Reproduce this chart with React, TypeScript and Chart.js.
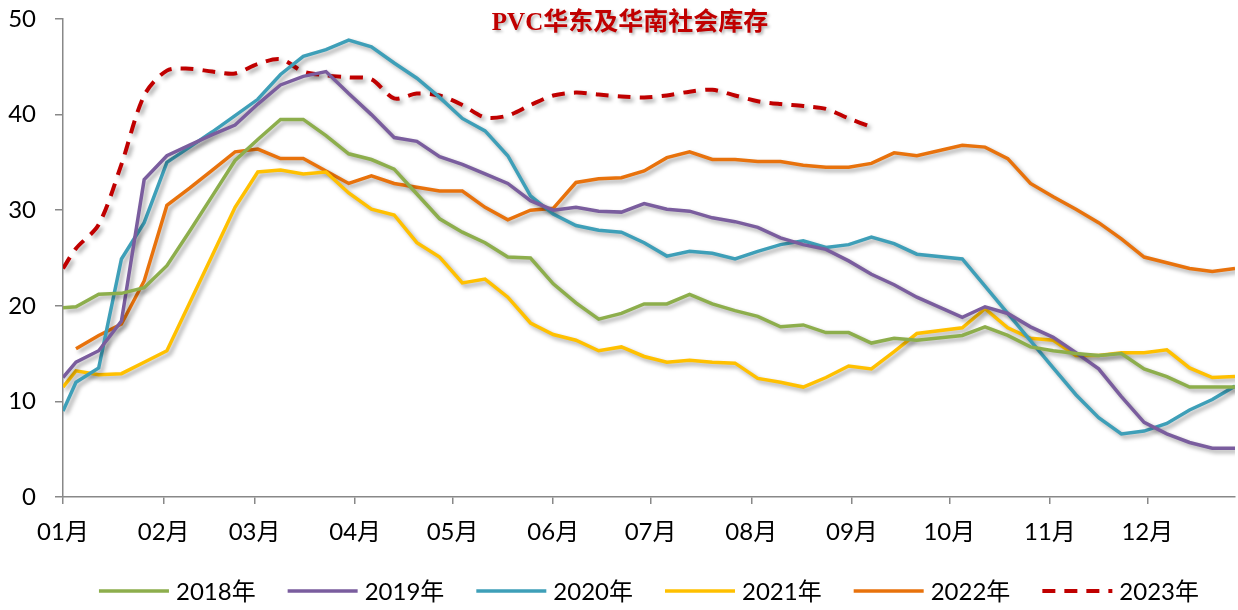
import React, { useEffect, useRef } from "react";
import { Chart, registerables } from "chart.js";

Chart.register(...registerables);

// ---------- data ----------
const chartTitle = "PVC华东及华南社会库存";
const monthLabels = ["01月", "02月", "03月", "04月", "05月", "06月", "07月", "08月", "09月", "10月", "11月", "12月"];
const monthStartDays = [0, 31, 59, 90, 120, 151, 181, 212, 243, 273, 304, 334];
const lastDay = 361;
// sample dates (day of year): Jan 1, then weekly from Jan 5
const weekDays: number[] = [0, ...Array.from({ length: 52 }, (_, k) => 4 + 7 * k)];

const seriesNames = ["2018年", "2019年", "2020年", "2021年", "2022年", "2023年"];

const v2018 = [19.8, 19.9, 21.2, 21.3, 21.9, 24.2, 27.8, 31.5, 35.2, 37.4, 39.5, 39.5, 37.8, 35.9, 35.3, 34.3, 31.7, 29.1, 27.7, 26.6, 25.1, 25.0, 22.3, 20.3, 18.6, 19.2, 20.2, 20.2, 21.2, 20.2, 19.5, 18.9, 17.8, 18.0, 17.2, 17.2, 16.1, 16.6, 16.4, null, 16.9, 17.8, 16.9, 15.7, 15.3, 15.0, 14.8, 15.0, 13.4, 12.6, 11.5, 11.5, 11.5];
const v2019 = [12.5, 14.1, 15.3, 18.4, 33.2, 35.7, 36.8, 37.9, 38.9, 41.1, 43.1, 44.0, 44.5, 42.2, 40.0, 37.6, 37.2, 35.6, 34.8, 33.8, 32.8, 31.0, 30.0, 30.3, 29.9, 29.8, 30.7, 30.1, 29.9, 29.2, 28.8, 28.2, 27.1, 26.4, 25.9, 24.7, 23.3, 22.2, 20.9, null, 18.8, 19.9, 19.2, 17.8, 16.7, 15.1, 13.4, 10.5, 7.8, 6.6, 5.7, 5.1, 5.1];
const v2020 = [9.0, 12.0, 13.5, 24.9, 28.7, 35.0, 36.6, 38.2, 39.9, 41.6, 44.2, 46.1, 46.8, 47.8, 47.1, 45.4, 43.8, 41.8, 39.6, 38.3, 35.7, 31.5, 29.6, 28.4, 27.9, 27.7, 26.6, 25.2, 25.7, 25.5, 24.9, 25.7, 26.4, 26.8, 26.1, 26.4, 27.2, 26.5, 25.4, null, 24.9, null, null, null, 13.5, 10.7, 8.3, 6.6, 6.9, 7.7, 9.1, 10.2, 11.6];
const v2021 = [11.5, 13.2, 12.8, 12.9, 14.1, 15.3, 20.3, 25.3, 30.3, 34.0, 34.2, 33.8, 34.0, 31.8, 30.1, 29.5, 26.6, 25.1, 22.4, 22.8, 20.9, 18.2, 17.0, 16.4, 15.3, 15.7, 14.7, 14.1, 14.3, 14.1, 14.0, 12.4, 12.0, 11.5, 12.5, 13.7, 13.4, 15.2, 17.1, null, 17.7, 19.7, 17.7, 16.6, 16.4, 14.8, 14.8, 15.1, 15.1, 15.4, 13.5, 12.5, 12.6];
const v2022 = [null, 15.5, 16.9, 18.1, 22.6, 30.5, 32.3, 34.2, 36.1, 36.4, 35.4, 35.4, 34.1, 32.8, 33.6, 32.8, 32.4, 32.0, 32.0, 30.3, 29.0, 30.0, 30.2, 32.9, 33.3, 33.4, 34.1, 35.5, 36.1, 35.3, 35.3, 35.1, 35.1, 34.7, 34.5, 34.5, 34.9, 36.0, 35.7, null, 36.8, 36.6, 35.4, 32.8, 31.4, 30.1, 28.7, 27.0, 25.1, 24.5, 23.9, 23.6, 23.9];
const v2023 = [23.9, 26.0, 28.5, 34.8, 42.0, 44.6, 44.8, 44.5, 44.3, 45.3, 45.8, 44.5, 44.1, 43.9, 43.7, 41.7, 42.2, 42.0, 41.0, 39.7, 39.9, 41.0, 42.0, 42.3, 42.1, 41.9, 41.8, 42.0, 42.4, 42.6, 42.0, 41.4, 41.1, 40.9, 40.6, 39.6, 38.7];

const yTicks = [0, 10, 20, 30, 40, 50];

// ---------- styles ----------
const FONT = "Lato, 'Noto Sans CJK SC', sans-serif";
const colors = ["#8DAE4C", "#7A5D9E", "#3E9FB8", "#FFC000", "#E8720C", "#C00000"];
const allValues = [v2018, v2019, v2020, v2021, v2022, v2023];

const toPoints = (vals: (number | null)[]) =>
  vals.map((y, i) => ({ x: weekDays[i], y }));

const shadowPlugin = {
  id: "lineShadow",
  beforeDatasetDraw(chart: any) {
    const ctx = chart.ctx;
    ctx.save();
    ctx.shadowColor = "rgba(0,0,0,0.35)";
    ctx.shadowBlur = 4;
    ctx.shadowOffsetX = 3;
    ctx.shadowOffsetY = 3;
  },
  afterDatasetDraw(chart: any) {
    chart.ctx.restore();
  },
};

const titlePlugin = {
  id: "floatingTitle",
  afterDraw(chart: any) {
    const ctx = chart.ctx;
    ctx.save();
    ctx.font = "bold 25px 'Liberation Serif', 'Noto Sans CJK SC', serif";
    ctx.fillStyle = "#C00000";
    ctx.textAlign = "center";
    ctx.textBaseline = "middle";
    ctx.shadowColor = "rgba(0,0,0,0.3)";
    ctx.shadowBlur = 3;
    ctx.shadowOffsetX = 2;
    ctx.shadowOffsetY = 2;
    ctx.fillText(chartTitle, 630, 24);
    ctx.restore();
  },
};

const legendPlugin = {
  id: "bottomLegend",
  afterDraw(chart: any) {
    const ctx = chart.ctx;
    ctx.save();
    ctx.font = `24px ${FONT}`;
    const lineW = 70;
    const gapText = 7;
    const gapItem = 32;
    const items = chart.data.datasets.map((ds: any) => ({ ds, w: ctx.measureText(ds.label).width }));
    const total =
      items.reduce((s: number, it: any) => s + lineW + gapText + it.w, 0) + gapItem * (items.length - 1);
    let x = (chart.chartArea.left + chart.chartArea.right) / 2 - total / 2;
    const y = 591;
    items.forEach(({ ds, w }: any) => {
      ctx.beginPath();
      ctx.strokeStyle = ds.borderColor;
      ctx.lineWidth = ds.borderWidth;
      ctx.lineCap = "butt";
      ctx.setLineDash(ds.borderDash || []);
      ctx.moveTo(x, y);
      ctx.lineTo(x + lineW, y);
      ctx.stroke();
      ctx.setLineDash([]);
      ctx.fillStyle = "#000";
      ctx.textAlign = "left";
      ctx.textBaseline = "middle";
      ctx.fillText(ds.label, x + lineW + gapText, y + 1);
      x += lineW + gapText + w + gapItem;
    });
    ctx.restore();
  },
};

export default function App() {
  const ref = useRef<HTMLCanvasElement | null>(null);

  useEffect(() => {
    if (!ref.current) return;
    const datasets = allValues.map((vals, i) => ({
      label: seriesNames[i],
      data: toPoints(vals),
      borderColor: colors[i],
      backgroundColor: colors[i],
      borderWidth: i === 5 ? 4 : 3.5,
      borderDash: i === 5 ? [13, 9] : [],
      tension: i === 5 ? 0.3 : 0,
      pointRadius: 0,
      pointHoverRadius: 0,
      spanGaps: true,
      fill: false,
    }));

    const chart = new Chart(ref.current, {
      type: "line",
      data: { datasets },
      plugins: [shadowPlugin, titlePlugin, legendPlugin],
      options: {
        animation: false,
        responsive: false,
        devicePixelRatio: 1,
        layout: { padding: { top: 3, right: 3, bottom: 0, left: 0 } },
        plugins: {
          legend: { display: false },
          title: { display: false },
          tooltip: { enabled: false },
        },
        scales: {
          x: {
            type: "linear",
            min: 0,
            max: lastDay,
            afterBuildTicks: (scale: any) => {
              scale.ticks = monthStartDays.map((v) => ({ value: v }));
            },
            afterFit: (scale: any) => {
              scale.height = 113;
            },
            ticks: {
              autoSkip: false,
              maxRotation: 0,
              padding: 14,
              color: "#000",
              font: { size: 24, family: FONT },
              callback: (v: any) => {
                const idx = monthStartDays.indexOf(Number(v));
                return idx >= 0 ? monthLabels[idx] : "";
              },
            },
            grid: {
              drawOnChartArea: false,
              drawTicks: true,
              tickLength: 7,
              color: "#888888",
              lineWidth: 1.5,
            },
            border: { display: true, color: "#888888", width: 1.5 },
          },
          y: {
            min: 0,
            max: 50,
            afterBuildTicks: (scale: any) => {
              scale.ticks = yTicks.map((v) => ({ value: v }));
            },
            afterFit: (scale: any) => {
              scale.width = 63;
            },
            ticks: {
              padding: 19,
              color: "#000",
              font: { size: 24, family: FONT, lineHeight: 0 },
            },
            grid: {
              drawOnChartArea: false,
              drawTicks: true,
              tickLength: 8,
              color: "#888888",
              lineWidth: 1.5,
            },
            border: { display: true, color: "#888888", width: 1.5 },
          },
        },
      },
    });
    return () => chart.destroy();
  }, []);

  return (
    <div style={{ position: "fixed", left: 0, top: 0, width: 1238, height: 610, background: "#fff" }}>
      <canvas ref={ref} width={1238} height={610} style={{ display: "block" }} />
    </div>
  );
}
